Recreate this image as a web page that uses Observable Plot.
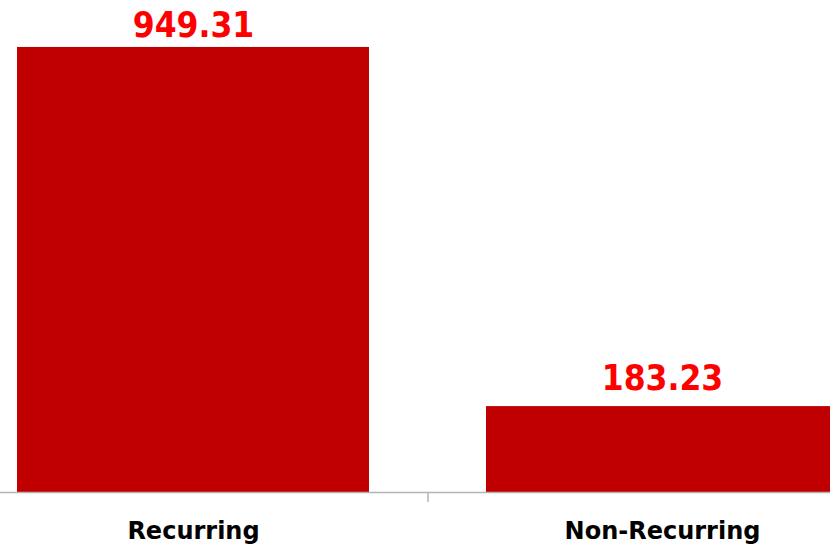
<!DOCTYPE html>
<html>
<head>
<meta charset="utf-8">
<script src="https://cdn.jsdelivr.net/npm/d3@7"></script>
<script src="https://cdn.jsdelivr.net/npm/@observablehq/plot@0.6"></script>
<style>
  html, body { margin: 0; padding: 0; background: #fff; }
  #chart svg { display: block; }
</style>
</head>
<body>
<div id="chart"></div>
<script>
const categories = ["Recurring", "Non-Recurring"];
const values = [949.31, 183.23];
const valueLabels = ["949.31", "183.23"];

const data = categories.map((c, i) => ({category: c, value: values[i], label: valueLabels[i]}));

const W = 830, H = 545;
const marginTop = 23.2, marginBottom = 53;
const yMax = 1000;
const pxPerUnit = (H - marginTop - marginBottom) / yMax;
const xRange = [-41.5, 896.5];
const step = (xRange[1] - xRange[0]) / 2;

const labelGap = 17;      // px between label baseline and bar top
const labelCeiling = 36.7; // topmost label baseline (px)
const ceilUnits = (H - marginBottom - labelCeiling) / pxPerUnit;

const chart = Plot.plot({
  width: W,
  height: H,
  marginTop, marginBottom, marginLeft: 0, marginRight: 0,
  style: {background: "#fff", overflow: "hidden"},
  x: {domain: categories, range: xRange, paddingInner: 0.25, paddingOuter: 0.125, label: null},
  y: {domain: [0, yMax], axis: null},
  marks: [
    Plot.barY(data, {x: "category", y: "value", fill: "#C00000"}),
    Plot.ruleY([0], {stroke: "#b4b4b4", strokeWidth: 1.5}),
    Plot.ruleX([categories[0]], {x: d => d, dx: step / 2, y1: 0, y2: -10 / pxPerUnit, stroke: "#b4b4b4", strokeWidth: 1.5}),
    Plot.text(data, {
      x: "category",
      y: d => Math.min(d.value + labelGap / pxPerUnit, ceilUnits),
      text: "label",
      fill: "#FF0000",
      fontSize: 35,
      fontWeight: "bold",
      fontFamily: "'DejaVu Sans Condensed', 'DejaVu Sans', sans-serif",
      lineAnchor: "bottom",
      dy: 0
    }),
    Plot.axisX({
      tickSize: 0,
      tickPadding: 29,
      fontSize: 24,
      fontWeight: "bold",
      fontFamily: "'DejaVu Sans', sans-serif",
      fill: "#000",
      label: null
    })
  ]
});
document.getElementById("chart").appendChild(chart);
</script>
</body>
</html>
